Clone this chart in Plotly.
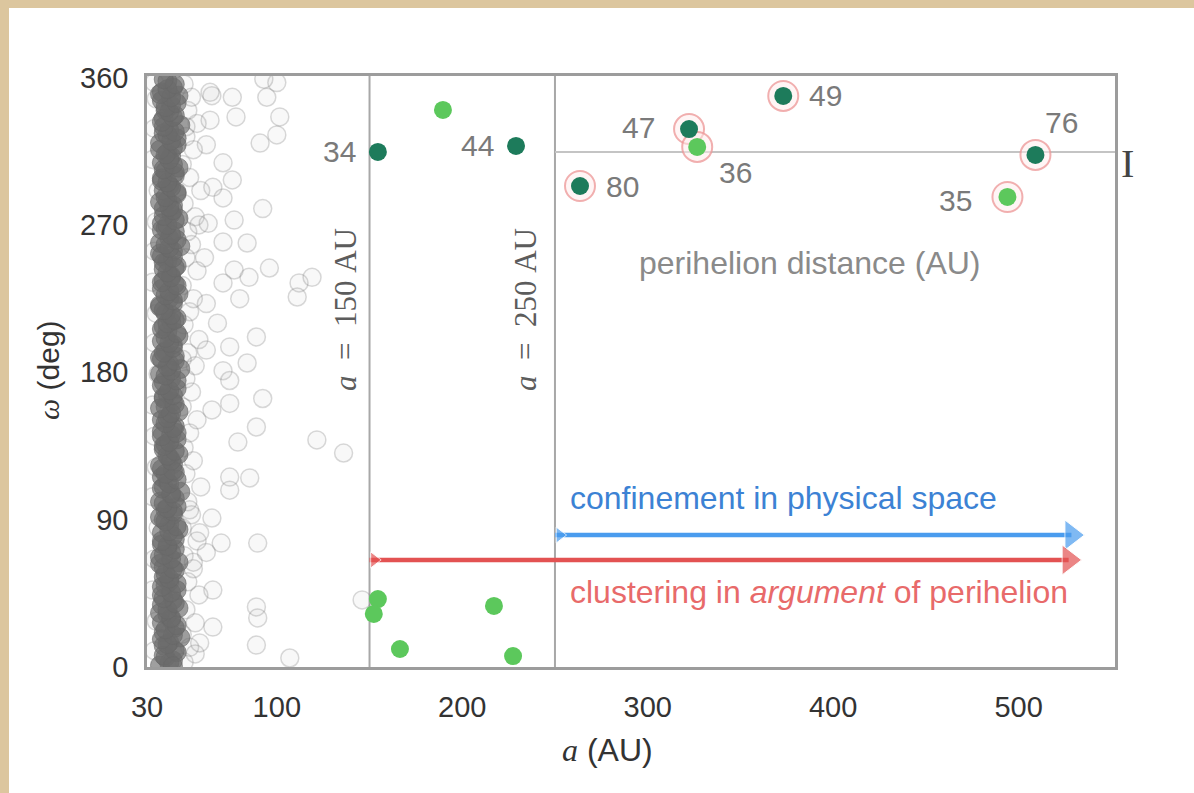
import plotly.graph_objects as go

# ---------------- data ----------------
x_ticks = [30, 100, 200, 300, 400, 500]
y_ticks = [0, 90, 180, 270, 360]

# dense population near a ~ 37-48 AU
band_a = [37,44,40,46,39,42,48,39,45,38,43,41,47,38,44,38,46,40,42,39,45,39,47,37,43,
          41,38,45,38,47,42,39,44,40,46,37,43,48,39,41,38,45,38,44,42,47,39,40,46,43,
          38,45,38,42,47,40,44,39,41,46,39,43,37,48,42,38,45,40,44,38,47,41,39,43,46,
          40,37,44,42,47,38,45,39,43,39,46,41,38,44,48,37,42,45,40,38,47,43,39,44,41,
          46,39,42,38,45,40,47,38,43,41,44,37,46,39,42,48,39,45,40,43,38,47,38,44,41]
band_w = [1,4,6,9,13,15,18,21,24,27,29,32,36,38,41,44,47,50,52,55,
          59,61,64,67,70,73,75,78,82,84,87,90,93,96,98,101,105,107,110,113,
          116,119,121,124,128,130,133,136,139,142,144,147,151,153,156,159,162,165,167,170,
          174,176,179,182,185,188,190,193,197,199,202,205,208,211,213,216,220,222,225,228,
          231,234,236,239,243,245,248,251,254,257,259,262,266,268,271,274,277,280,282,285,
          289,291,294,297,300,303,305,308,312,314,317,320,323,326,328,331,335,337,340,343,
          346,349,351,354,358]
band2_a = [42,39,45,41,38,44,40,46,43,37,41,45,39,43,38,46,42,40,44,37,
           43,39,45,41,38,44,42,46,40,37,44,41,39,45,43,38,42,46,40,44,
           37,43,41,45,39,42,38,46,44,40,41,43,37,45,39,44,42,38,46,40,
           43,41,45,37,39,44,42,40,46,38,41,45,43,39,37,44,40,42,46,38,
           43,41,45,39,44,37,42,40,46,43,38,41,45,39,44,42,37,40,46,43,
           41,38,45,39,44,42,40,37,46,43,41,45,39,38,44,42,40,46,43,37,
           41,45,39,44]
band2_w = [2.5,7,10,14,17,19.5,23,25.5,30,33,35,39,42,45.5,49,51,54,57,60,63,
           66,68.5,72,74,77,80,83,86,89,91.5,95,97,100,103,106,109,112,114.5,118,120,
           123,126,129,132,135,137.5,141,143,146,149,152,155,158,160.5,164,166,169,172,175,178,
           181,183.5,187,189,192,195,198,201,204,206.5,210,212,215,218,221,224,227,229.5,233,235,
           238,241,244,247,250,252.5,256,258,261,264,267,270,273,275.5,279,281,284,287,290,293,
           296,298.5,302,304,307,310,313,316,319,321.5,325,327,330,333,336,339,342,344.5,348,350,
           353,356,359,0.5]

# inner fringe (a ~ 33-36 AU)
inner_a = [34,35,33,34,36,33,35,34,33,36,34,35,33,34,35,36,33,34,35,34]
inner_w = [10,28,47,66,85,104,122,141,160,179,198,216,235,254,272,291,310,329,347,357]

# outer fringe of the dense population
edge_a = [50,53,49,56,51,58,52,55,50,57,49,54,52,59,51,55,50,53,57,49,54,51,56,52,58,
          50,53,55,49,57,51,54,52,56,50,59,53,49,55,51,57,52,54,50,56,53,49,58,51,55]
edge_w = [3,12,20,27,35,44,52,60,68,77,85,93,101,110,118,126,134,143,151,159,168,176,184,192,200,
          209,217,225,233,242,250,258,266,275,283,291,299,307,316,324,332,340,348,356,8,96,188,270,330,64]

# scattered objects with a < 150 AU
scat_a = [65,76,94.6,100,101.6,100,91,78,64,62,71,76,65.5,71,92.4,77,63,71,84,61,77,96,85,80,71,
          112,119,111,62,68,89,74.6,62,84,71,74.6,92.4,74.6,65,89,79,121.6,136,74.6,85.4,74.6,65,
          58.4,70,89.7,62,65.5,89,89.7,65.5,89,107,58.4,146,93,64]
scat_w = [349,348,348,357,336,325,320,336,334,319,308,297.5,293,286.5,280,273,271,259.6,259,250,
          242.5,243.7,238,225,234.6,234.6,238,226,222,210,201.6,195.5,193.6,185.7,181,175,164,161,
          157,146.6,137.4,138.7,130.7,116,115.5,108,91,82,75.7,75.7,70,47,36.7,30,24.4,13.4,5.5,14.7,
          41,359,351]

# labelled distant objects
obj_label = ["34", "44", "80", "47", "36", "49", "35", "76"]
obj_a = [154.5, 229, 263.5, 322.3, 326.7, 373.1, 494, 509.1]
obj_w = [314.6, 318.3, 293.8, 328.6, 317.7, 348.8, 287.1, 312.8]
obj_dark = [True, True, True, True, False, True, False, True]
obj_ring = [False, False, True, True, True, True, True, True]
lab_dx = [-20, -20, 24, -32, 20, 24, -33, 8]
lab_dy = [0, 0, 0, 2, -26, 0, -4, 32]
lab_anchor = ["right", "right", "left", "right", "left", "left", "right", "left"]

# other (unlabelled) light-green objects
lg_a = [189.6, 154.5, 152.3, 166.4, 217.1, 227.4]
lg_w = [340.3, 41.5, 32.4, 11, 37.3, 6.7]

a_cut1, a_cut2 = 150, 250
w_mean = 314.6
x_range = [30, 552]
y_range = [0, 361]

# ---------------- layout constants ----------------
W, H = 1194, 793
ML, MR, MT, MB = 147, 79, 76, 126
PW, PH = W - ML - MR, H - MT - MB


def px(x):
    return (x - ML) / PW


def py(y):
    return (H - MB - y) / PH


SANS = "Liberation Sans"
SERIF = "Liberation Serif"
DARK_G = "#1d7b5b"
LIGHT_G = "#5cc85c"
BLUE = "#4a9cee"
RED = "#e35252"
NB = "\u00a0"

fig = go.Figure()

fig.add_trace(go.Scatter(
    x=inner_a + edge_a + scat_a, y=inner_w + edge_w + scat_w, mode="markers",
    marker=dict(size=18, color="rgba(160,160,160,0.08)",
                line=dict(color="rgba(120,120,120,0.28)", width=1.5)),
    hoverinfo="skip"))
fig.add_trace(go.Scatter(
    x=band_a + band2_a, y=band_w + band2_w, mode="markers",
    marker=dict(size=19, color="rgba(108,108,108,0.65)",
                line=dict(color="rgba(104,104,104,0.6)", width=1)),
    hoverinfo="skip"))

ring_a = [a for a, r in zip(obj_a, obj_ring) if r]
ring_w = [w for w, r in zip(obj_w, obj_ring) if r]
fig.add_trace(go.Scatter(
    x=ring_a, y=ring_w, mode="markers",
    marker=dict(size=30, color="rgba(255,235,235,0.5)",
                line=dict(color="rgba(236,150,150,0.75)", width=2)),
    hoverinfo="skip"))

fig.add_trace(go.Scatter(
    x=lg_a, y=lg_w, mode="markers",
    marker=dict(size=18, color=LIGHT_G), hoverinfo="skip"))
fig.add_trace(go.Scatter(
    x=obj_a, y=obj_w, mode="markers",
    marker=dict(size=18, color=[DARK_G if d else LIGHT_G for d in obj_dark]),
    hoverinfo="skip"))

# arrows (lines + triangle heads)
blue_w, red_w = 80.6, 65.4
blue_end, red_end = 535.5, 534
fig.add_trace(go.Scatter(x=[a_cut2, blue_end - 7], y=[blue_w, blue_w], mode="lines",
                         line=dict(color=BLUE, width=4.5), hoverinfo="skip"))
fig.add_trace(go.Scatter(x=[a_cut1, red_end - 7], y=[red_w, red_w], mode="lines",
                         line=dict(color=RED, width=4.5), hoverinfo="skip"))
fig.add_trace(go.Scatter(x=[blue_end - 7, a_cut2 + 2.5], y=[blue_w, blue_w], mode="markers",
                         marker=dict(symbol="triangle-right", size=[26, 14], color=BLUE),
                         hoverinfo="skip"))
fig.add_trace(go.Scatter(x=[red_end - 7, a_cut1 + 2.5], y=[red_w, red_w], mode="markers",
                         marker=dict(symbol="triangle-right", size=[26, 14], color=RED),
                         hoverinfo="skip"))

shapes = [
    dict(type="rect", xref="paper", yref="paper", x0=px(9), x1=px(1194), y0=py(793), y1=py(8),
         fillcolor="white", line=dict(width=0), layer="below"),
    dict(type="line", xref="x", yref="paper", x0=a_cut1, x1=a_cut1, y0=0, y1=1,
         line=dict(color="#a8a8a8", width=2), layer="below"),
    dict(type="line", xref="x", yref="paper", x0=a_cut2, x1=a_cut2, y0=0, y1=1,
         line=dict(color="#a8a8a8", width=2), layer="below"),
    dict(type="line", xref="x", yref="y", x0=a_cut2, x1=x_range[1], y0=w_mean, y1=w_mean,
         line=dict(color="#c4c4c4", width=2), layer="below"),
]

ann = []
for lab, a, w, dx, dy, anc in zip(obj_label, obj_a, obj_w, lab_dx, lab_dy, lab_anchor):
    ann.append(dict(x=a, y=w, xref="x", yref="y", text=lab, showarrow=False,
                    xanchor=anc, yanchor="middle", xshift=dx, yshift=dy,
                    font=dict(family=SANS, size=30, color="#7a7a7a")))


def ptext(x, y, text, size, color, family=SANS, xanchor="center", angle=0):
    return dict(x=px(x), y=py(y), xref="paper", yref="paper", text=text, showarrow=False,
                xanchor=xanchor, yanchor="middle", textangle=angle,
                font=dict(family=family, size=size, color=color))


ann += [
    ptext(345, 310, f"<i>a</i>{NB}{NB}={NB}{NB}150{NB}AU", 31, "#5c5c5c", SERIF, angle=-90),
    ptext(525, 310, f"<i>a</i>{NB}{NB}={NB}{NB}250{NB}AU", 31, "#5c5c5c", SERIF, angle=-90),
    ptext(810, 263, "perihelion distance (AU)", 32, "#8a8a8a"),
    ptext(568, 498, "confinement in physical space", 32, "#3c82d4", xanchor="left"),
    ptext(568, 592, "clustering in <i>argument</i> of perihelion", 32, "#e86a6a", xanchor="left"),
    ptext(607, 750, "<span style='font-family:Liberation Serif'><i>a</i></span> (AU)", 32, "#333333"),
    ptext(48, 370, "<span style='font-family:Liberation Serif'><i>ω</i></span> (deg)", 30,
          "#333333", angle=-90),
    ptext(1127, 163, "I", 40, "#444444", SERIF),
]

fig.update_layout(
    width=W, height=H, margin=dict(l=ML, r=MR, t=MT, b=MB),
    paper_bgcolor="#dcc69e", plot_bgcolor="white", showlegend=False,
    shapes=shapes, annotations=ann,
    xaxis=dict(range=x_range, tickvals=x_ticks, ticktext=[str(v) for v in x_ticks],
               showgrid=False, zeroline=False, showline=True, mirror=True,
               linecolor="#9c9c9c", linewidth=2.5, ticks="outside", ticklen=12,
               tickcolor="rgba(0,0,0,0)", tickfont=dict(family=SANS, size=29, color="#333333")),
    yaxis=dict(range=y_range, tickvals=y_ticks, ticktext=[str(v) for v in y_ticks],
               showgrid=False, zeroline=False, showline=True, mirror=True,
               linecolor="#9c9c9c", linewidth=2.5, ticks="outside", ticklen=10,
               tickcolor="rgba(0,0,0,0)", tickfont=dict(family=SANS, size=29, color="#333333")),
)

fig.write_html("out.html")
